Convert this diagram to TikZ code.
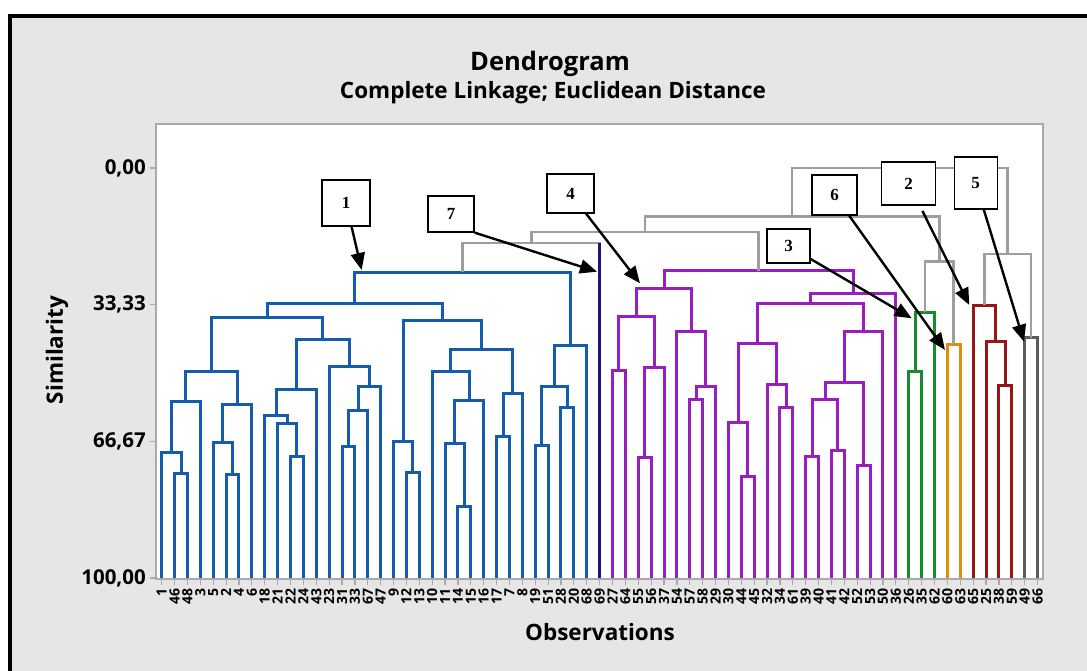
\documentclass[tikz,border=0pt]{standalone}
\usepackage{fontspec}
\setmainfont{Open Sans}
\newfontfamily\boxfont{Liberation Serif}
\usetikzlibrary{calc,arrows.meta}

\definecolor{cblue}{RGB}{20,92,172}
\definecolor{cnavy}{RGB}{28,22,124}
\definecolor{cpurp}{RGB}{152,30,192}
\definecolor{cgreen}{RGB}{22,140,44}
\definecolor{corange}{RGB}{222,142,8}
\definecolor{cred}{RGB}{152,22,22}
\definecolor{cdark}{RGB}{92,92,92}
\definecolor{clink}{RGB}{158,158,158}
\definecolor{cpanel}{RGB}{230,230,230}
\definecolor{caxis}{RGB}{170,170,170}

% one merge of a dendrogram: left child, right child, merge height (px), new cluster name
\newcommand\jn[5]{%
  \draw[#1] let \p1=(#2), \p2=(#3) in
    (\p1) -- (\x1,-#4pt) -- ({0.5*\x1+0.5*\x2},-#4pt) coordinate (#5)
    -- (\x2,-#4pt) -- (\p2);}

\begin{document}
\begin{tikzpicture}[x=1pt,y=-1pt,
  declare function={lx(\i)=161.7+(\i-1)*12.88;},
  branch/.style={line width=3pt,line join=miter,line cap=butt},
  cb/.style={branch,draw=cblue},
  cn/.style={branch,draw=cnavy},
  cp/.style={branch,draw=cpurp},
  cg/.style={branch,draw=cgreen},
  co/.style={branch,draw=corange},
  cr/.style={branch,draw=cred},
  cd/.style={branch,draw=cdark},
  cl/.style={branch,draw=clink,line width=2.7pt},
  axisline/.style={draw=caxis,line width=1.2pt},
  xtick/.style={rotate=90,anchor=east,inner sep=0pt,font=\fontsize{14}{14}\selectfont\bfseries},
  ytick/.style={anchor=east,inner sep=0pt,font=\fontsize{20.5}{22}\selectfont\bfseries},
  numbox/.style={draw=black,line width=1.3pt,fill=white,inner sep=0pt,
    font=\boxfont\fontsize{17}{17}\selectfont\bfseries},
  callout/.style={line width=2.4pt,-{Triangle[length=17pt,width=14pt]}}
]
\useasboundingbox (0,0) rectangle (1087,671);
% figure panel with its black frame on the top and left edges
\fill[white] (0,0) rectangle (1087,671);
\fill[cpanel] (10,16) rectangle (1087,671);
\draw[line width=4pt] (10,671) -- (10,16) -- (1087,16);
% plot area
\draw[axisline,fill=white] (156,124) rectangle (1043,579);

% titles
\node[font=\fontsize{25.5}{28}\selectfont\bfseries] (title) at (550,64) {Dendrogram};
\node[font=\fontsize{22.5}{24}\selectfont\bfseries] (subtitle) at (553,93) {Complete Linkage; Euclidean Distance};
\node[rotate=90,font=\fontsize{22.5}{24}\selectfont\bfseries] (ylabel) at (57,350) {Similarity};
\node[font=\fontsize{22.5}{24}\selectfont\bfseries] (xlabel) at (600,632) {Observations};

% similarity axis
\foreach \yy/\lab [count=\k] in {168/{0,00},304.7/{33,33},441.3/{66,67},578/{100,00}}{
  \draw[axisline] (150,\yy) -- (156,\yy);
  \node[ytick] (ytick\k) at (146,\yy) {\lab};
}

% leaves, ticks and observation labels
\foreach \lab [count=\i] in {1,46,48,3,5,2,4,6,18,21,22,24,43,23,31,33,67,47,9,12,13,10,11,14,15,16,17,7,8,19,51,28,20,68,69,27,64,55,56,37,54,57,58,29,30,44,45,32,34,61,39,40,41,42,52,53,50,36,26,35,62,60,63,65,25,38,59,49,66}{
  \coordinate (L\i) at ({lx(\i)},578);
  \draw[axisline] ({lx(\i)},579) -- ({lx(\i)},585);
  \node[xtick] (obs\i) at ({lx(\i)},588.5) {\lab};
}

% cluster 1 (blue)
\jn{cb}{L2}{L3}{473.3}{b23}
\jn{cb}{L1}{b23}{452.3}{b1to3}
\jn{cb}{b1to3}{L4}{401.7}{b1to4}
\jn{cb}{L6}{L7}{474}{b67}
\jn{cb}{L5}{b67}{442.7}{b5to7}
\jn{cb}{b5to7}{L8}{404}{b5to8}
\jn{cb}{b1to4}{b5to8}{371.7}{b1to8}
\jn{cb}{L11}{L12}{456.7}{b1112}
\jn{cb}{L10}{b1112}{423.3}{b10to12}
\jn{cb}{L9}{b10to12}{415}{b9to12}
\jn{cb}{b9to12}{L13}{389}{b9to13}
\jn{cb}{L15}{L16}{446.7}{b1516}
\jn{cb}{b1516}{L17}{410}{b15to17}
\jn{cb}{b15to17}{L18}{386.5}{b15to18}
\jn{cb}{L14}{b15to18}{366}{b14to18}
\jn{cb}{b9to13}{b14to18}{339}{b9to18}
\jn{cb}{b1to8}{b9to18}{317.3}{b1to18}
\jn{cb}{L20}{L21}{472.3}{b2021}
\jn{cb}{L19}{b2021}{441}{b19to21}
\jn{cb}{L24}{L25}{506.7}{b2425}
\jn{cb}{L23}{b2425}{443.3}{b23to25}
\jn{cb}{b23to25}{L26}{400}{b23to26}
\jn{cb}{L22}{b23to26}{371.7}{b22to26}
\jn{cb}{L27}{L28}{436}{b2728}
\jn{cb}{b2728}{L29}{393.3}{b27to29}
\jn{cb}{b22to26}{b27to29}{349}{b22to29}
\jn{cb}{b19to21}{b22to29}{320}{b19to29}
\jn{cb}{b1to18}{b19to29}{303}{b1to29}
\jn{cb}{L30}{L31}{445.7}{b3031}
\jn{cb}{L32}{L33}{407.7}{b3233}
\jn{cb}{b3031}{b3233}{386}{b30to33}
\jn{cb}{b30to33}{L34}{345.7}{b30to34}
\jn{cb}{b1to29}{b30to34}{272}{blue}

% cluster 4 (purple)
\jn{cp}{L36}{L37}{370.7}{p3637}
\jn{cp}{L38}{L39}{457.3}{p3839}
\jn{cp}{p3839}{L40}{367.3}{p38to40}
\jn{cp}{p3637}{p38to40}{316}{p36to40}
\jn{cp}{L42}{L43}{399.3}{p4243}
\jn{cp}{p4243}{L44}{386.7}{p42to44}
\jn{cp}{L41}{p42to44}{331.7}{p41to44}
\jn{cp}{p36to40}{p41to44}{288.3}{p36to44}
\jn{cp}{L46}{L47}{476.7}{p4647}
\jn{cp}{L45}{p4647}{422.3}{p45to47}
\jn{cp}{L49}{L50}{407.3}{p4950}
\jn{cp}{L48}{p4950}{384}{p48to50}
\jn{cp}{p45to47}{p48to50}{343.3}{p45to50}
\jn{cp}{L51}{L52}{456}{p5152}
\jn{cp}{L53}{L54}{450.7}{p5354}
\jn{cp}{p5152}{p5354}{399}{p51to54}
\jn{cp}{L55}{L56}{465}{p5556}
\jn{cp}{p51to54}{p5556}{382.3}{p51to56}
\jn{cp}{p51to56}{L57}{331.7}{p51to57}
\jn{cp}{p45to50}{p51to57}{303.3}{p45to57}
\jn{cp}{p45to57}{L58}{293.3}{p45to58}
\jn{cp}{p36to44}{p45to58}{270.7}{purple}

% clusters 3 (green) and 6 (orange)
\jn{cg}{L59}{L60}{371.7}{g5960}
\jn{cg}{g5960}{L61}{312.3}{green}
\jn{co}{L62}{L63}{344.3}{orange}

% cluster 2 (red) and cluster 5 (dark grey)
\jn{cr}{L66}{L67}{385.7}{r6667}
\jn{cr}{L65}{r6667}{341.7}{r65to67}
\jn{cr}{L64}{r65to67}{305}{red}
\jn{cd}{L68}{L69}{337.7}{dark}

% links between clusters
\jn{cl}{blue}{L35}{243}{k1}
\draw[cn] (L35) -- (L35 |- k1);
\jn{cl}{k1}{purple}{232}{k2}
\jn{cl}{green}{orange}{261.7}{k3}
\jn{cl}{k2}{k3}{216.7}{k4}
\jn{cl}{red}{dark}{254}{k5}
\jn{cl}{k4}{k5}{168}{root}

% numbered call-outs
\node[numbox,minimum width=48pt,minimum height=46pt] (n1) at (346,203) {1};
\node[numbox,minimum width=46pt,minimum height=36pt] (n7) at (451,214) {7};
\node[numbox,minimum width=47pt,minimum height=39pt] (n4) at (570.5,193.5) {4};
\node[numbox,minimum width=45pt,minimum height=40pt] (n6) at (834.5,195) {6};
\node[numbox,minimum width=54pt,minimum height=43pt] (n2) at (908.7,183.5) {2};
\node[numbox,minimum width=43pt,minimum height=52pt] (n5) at (975.7,183) {5};
\node[numbox,minimum width=43pt,minimum height=34pt] (n3) at (788.5,246) {3};

\coordinate (t1) at (361.7,270);
\coordinate (t7) at (597,271.7);
\coordinate (t4) at (640,283.3);
\coordinate (t3) at (911.7,318.3);
\coordinate (t6) at (945,350);
\coordinate (t2) at (969.3,305);
\coordinate (t5) at (1024,341.7);

\draw[callout] (n1) -- (t1);
\draw[callout] (n7.south east) -- (t7);
\draw[callout] (n4) -- (t4);
\draw[callout] (n3) -- (t3);
\draw[callout] (n6) -- (t6);
\draw[callout,shorten <=6pt] (n2) -- (t2);
\draw[callout] (n5) -- (t5);
\end{tikzpicture}
\end{document}
